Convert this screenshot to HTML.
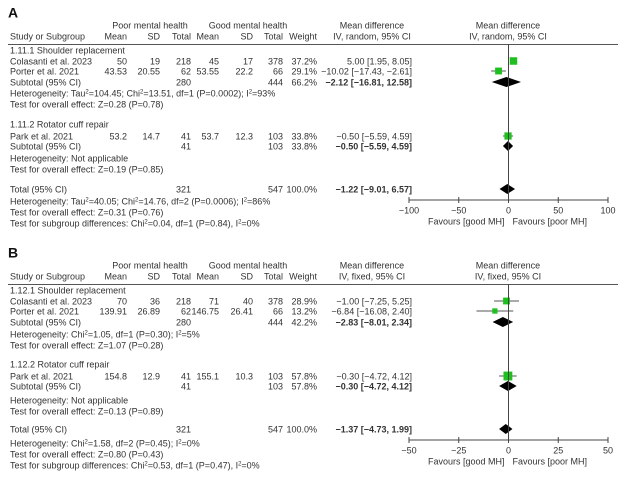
<!DOCTYPE html>
<html><head><meta charset="utf-8"><style>
body{margin:0;background:#fff;width:625px;height:481px;overflow:hidden}
svg{font-family:"Liberation Sans",sans-serif;font-size:9px;fill:#333}
</style></head><body>
<svg id="c" width="625" height="481"></svg>
<script>
// Panel A data
const aStudies=["Colasanti et al. 2023","Porter et al. 2021","Park et al. 2021"];
const aMD=[5.00,-10.02,-0.50];
const aLo=[1.95,-17.43,-5.59];
const aHi=[8.05,-2.61,4.59];
const aW=[37.2,29.1,33.8];
const aSubW=["66.2%","33.8%"];
const aSub=[[-2.12,-16.81,12.58],[-0.50,-5.59,4.59]];
const aTot=[-1.22,-9.01,6.57];
const aTicks=[-100,-50,0,50,100];
// Panel B data
const bStudies=["Colasanti et al. 2023","Porter et al. 2021","Park et al. 2021"];
const bMD=[-1.00,-6.84,-0.30];
const bLo=[-7.25,-16.08,-4.72];
const bHi=[5.25,2.40,4.12];
const bW=[28.9,13.2,57.8];
const bSubW=["42.2%","57.8%"];
const bSub=[[-2.83,-8.01,2.34],[-0.30,-4.72,4.12]];
const bTot=[-1.37,-4.73,1.99];
const bTicks=[-50,-25,0,25,50];

const svg=document.getElementById('c');
const NS="http://www.w3.org/2000/svg";
function el(tag,attrs,parent){const e=document.createElementNS(NS,tag);for(const k in attrs)e.setAttribute(k,attrs[k]);(parent||svg).appendChild(e);return e;}
function txt(x,y,s,anchor,name,extra){const t=el('text',Object.assign({x:x,y:y+3.3,'text-anchor':anchor||'start'},extra||{}));t.innerHTML=s;


return t;}
const sup=s=>'<tspan baseline-shift="super" font-size="6">'+s+'</tspan>';
const f=v=>v.toFixed(2).replace('-','−');

function panel(off,letter,num,method,S,MD,LO,HI,W,SUBW,SUB,TOT,ticks,rows){
  const xmin=ticks[0],xmax=ticks[ticks.length-1];
  const X=v=>409+(v-xmin)/(xmax-xmin)*199;
  txt(8,off+14,letter,'start','panel-label-'+letter.toLowerCase(),{'font-size':14,'font-weight':'bold',fill:'#111'});
  txt(150,off+25,'Poor mental health','middle','poor-mh-header');
  txt(248,off+25,'Good mental health','middle','good-mh-header');
  txt(10,off+36,'Study or Subgroup','start','study-header');
  [[127,'Mean'],[160,'SD'],[191,'Total'],[219,'Mean'],[253,'SD'],[283,'Total'],[317,'Weight']].forEach((h,i)=>txt(h[0],off+36,h[1],'end','col-header-'+i));
  txt(372,off+25,'Mean difference','middle','md-header');
  txt(372,off+36,'IV, '+method+', 95% CI','middle','md-method-header');
  txt(508,off+25,'Mean difference','middle','plot-header');
  txt(508,off+36,'IV, '+method+', 95% CI','middle','plot-method-header');
  const hl=el('line',{x1:8,x2:618,y1:off+44.5,y2:off+44.5,stroke:'#555','stroke-width':1});
  
  
  const cols=[127,160,191,219,253,283,317];
  const y=r=>off+r;
  txt(10,y(50),num+'.1 Shoulder replacement','start','subgroup-1-title');
  txt(10,y(124),num+'.2 Rotator cuff repair','start','subgroup-2-title');
  const studyRows=[61,71,136];
  studyRows.forEach((r,i)=>{
    txt(10,y(r),S[i],'start','study-name');
    rows[i].forEach((v,j)=>txt(cols[j],y(r),v,'end','study-value'));
    txt(317,y(r),W[i].toFixed(1)+'%','end','study-weight');
    txt(412,y(r),f(MD[i])+' ['+f(LO[i])+', '+f(HI[i])+']','end','study-md');
    const ci=el('line',{x1:X(LO[i]),x2:X(HI[i]),y1:y(r),y2:y(r),stroke:'#555','stroke-width':1});
    
    
    const s=2+Math.sqrt(W[i])*0.9;
    const sq=el('rect',{x:X(MD[i])-s/2,y:y(r)-s/2,width:s,height:s,fill:'#1fbf1f'});
    
    
  });
  const subRows=[82,146];
  const subTot=[['280','444'],['41','103']];
  subRows.forEach((r,i)=>{
    txt(10,y(r),'Subtotal (95% CI)','start','subtotal-label');
    txt(191,y(r),subTot[i][0],'end','subtotal-n');
    txt(283,y(r),subTot[i][1],'end','subtotal-n');
    txt(317,y(r),SUBW[i],'end','subtotal-weight');
    const v=SUB[i];
    txt(412,y(r),f(v[0])+' ['+f(v[1])+', '+f(v[2])+']','end','subtotal-md',{'font-weight':'bold'});
    const d=el('polygon',{points:`${X(v[1])},${y(r)} ${X(v[0])},${y(r)-5} ${X(v[2])},${y(r)} ${X(v[0])},${y(r)+5}`,fill:'#000'});
    
    
  });
  txt(10,y(189),'Total (95% CI)','start','total-label');
  txt(191,y(189),'321','end','total-n');
  txt(283,y(189),'547','end','total-n');
  txt(317,y(189),'100.0%','end','total-weight');
  txt(412,y(189),f(TOT[0])+' ['+f(TOT[1])+', '+f(TOT[2])+']','end','total-md',{'font-weight':'bold'});
  const td=el('polygon',{points:`${X(TOT[1])},${y(189)} ${X(TOT[0])},${y(189)-5} ${X(TOT[2])},${y(189)} ${X(TOT[0])},${y(189)+5}`,fill:'#000'});
  
  
  const zl=el('line',{x1:X(0),x2:X(0),y1:off+44,y2:off+200,stroke:'#444','stroke-width':1});
  
  
  const ax=el('line',{x1:X(xmin),x2:X(xmax),y1:off+200,y2:off+200,stroke:'#444','stroke-width':1});
  
  
  ticks.forEach(t=>{
    const tk=el('line',{x1:X(t),x2:X(t),y1:off+197,y2:off+203,stroke:'#444'});
    
    
    txt(X(t),off+210,String(t).replace('-','−'),'middle','x-tick-label');
  });
  txt(X(0)-4,off+221,'Favours [good MH]','end','favours-good-label');
  txt(X(0)+4,off+221,'Favours [poor MH]','start','favours-poor-label');
}
const aRows=[['50','19','218','45','17','378'],['43.53','20.55','62','53.55','22.2','66'],['53.2','14.7','41','53.7','12.3','103']];
const bRows=[['70','36','218','71','40','378'],['139.91','26.89','62','146.75','26.41','66'],['154.8','12.9','41','155.1','10.3','103']];
panel(0,'A','1.11','random',aStudies,aMD,aLo,aHi,aW,aSubW,aSub,aTot,aTicks,aRows);
panel(240,'B','1.12','fixed',bStudies,bMD,bLo,bHi,bW,bSubW,bSub,bTot,bTicks,bRows);
txt(10,93,'Heterogeneity: Tau'+sup(2)+'=104.45; Chi'+sup(2)+'=13.51, df=1 (P=0.0002); I'+sup(2)+'=93%','start','heterogeneity-a1');
txt(10,104,'Test for overall effect: Z=0.28 (P=0.78)','start','overall-effect-a1');
txt(10,158,'Heterogeneity: Not applicable','start','heterogeneity-a2');
txt(10,169,'Test for overall effect: Z=0.19 (P=0.85)','start','overall-effect-a2');
txt(10,201,'Heterogeneity: Tau'+sup(2)+'=40.05; Chi'+sup(2)+'=14.76, df=2 (P=0.0006); I'+sup(2)+'=86%','start','heterogeneity-a-total');
txt(10,212,'Test for overall effect: Z=0.31 (P=0.76)','start','overall-effect-a-total');
txt(10,223,'Test for subgroup differences: Chi'+sup(2)+'=0.04, df=1 (P=0.84), I'+sup(2)+'=0%','start','subgroup-diff-a');
txt(10,334,'Heterogeneity: Chi'+sup(2)+'=1.05, df=1 (P=0.30); I'+sup(2)+'=5%','start','heterogeneity-b1');
txt(10,345,'Test for overall effect: Z=1.07 (P=0.28)','start','overall-effect-b1');
txt(10,400,'Heterogeneity: Not applicable','start','heterogeneity-b2');
txt(10,411,'Test for overall effect: Z=0.13 (P=0.89)','start','overall-effect-b2');
txt(10,443,'Heterogeneity: Chi'+sup(2)+'=1.58, df=2 (P=0.45); I'+sup(2)+'=0%','start','heterogeneity-b-total');
txt(10,454,'Test for overall effect: Z=0.80 (P=0.43)','start','overall-effect-b-total');
txt(10,465,'Test for subgroup differences: Chi'+sup(2)+'=0.53, df=1 (P=0.47), I'+sup(2)+'=0%','start','subgroup-diff-b');
</script>
</body></html>
